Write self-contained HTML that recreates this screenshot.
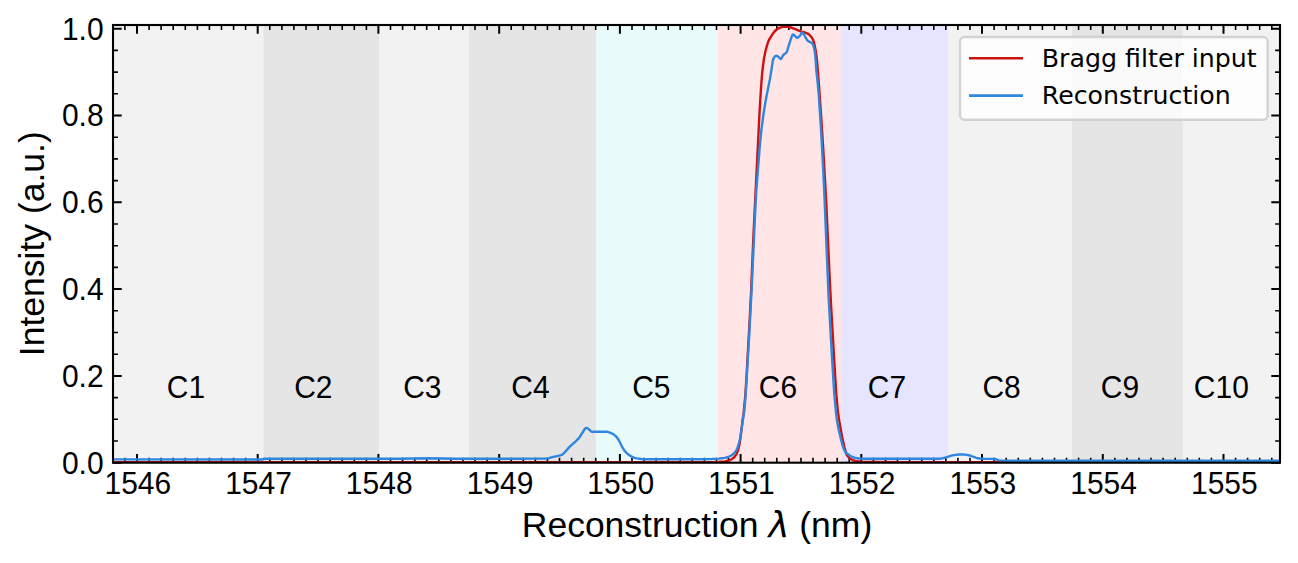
<!DOCTYPE html>
<html><head><meta charset="utf-8"><title>Reconstruction</title>
<style>
html,body{margin:0;padding:0;background:#fff;}
svg{display:block}
text{font-family:"Liberation Sans",sans-serif;fill:#000}
.tk{font-size:30px}
.lb{font-size:35.5px}
.lg{font-family:"DejaVu Sans",sans-serif;font-size:25.25px}
</style></head><body>
<svg width="1298" height="563" viewBox="0 0 1298 563">
<rect width="1298" height="563" fill="#fff"/>
<defs><clipPath id="ax"><rect x="113.0" y="25.0" width="1167.0" height="437.7"/></clipPath></defs>
<g clip-path="url(#ax)">
<rect x="105.0" y="25.0" width="1183.0" height="437.7" fill="#f2f2f2"/>
<rect x="263.6" y="25.0" width="1024.4" height="437.7" fill="#e5e5e5"/>
<rect x="379.0" y="25.0" width="909.0" height="437.7" fill="#f2f2f2"/>
<rect x="469.0" y="25.0" width="819.0" height="437.7" fill="#e5e5e5"/>
<rect x="595.9" y="25.0" width="692.1" height="437.7" fill="#e8fafa"/>
<rect x="718.0" y="25.0" width="570.0" height="437.7" fill="#ffe5e5"/>
<rect x="841.5" y="25.0" width="446.5" height="437.7" fill="#e5e5ff"/>
<rect x="947.9" y="25.0" width="340.1" height="437.7" fill="#f2f2f2"/>
<rect x="1072.0" y="25.0" width="216.0" height="437.7" fill="#e5e5e5"/>
<rect x="1182.6" y="25.0" width="105.4" height="437.7" fill="#f2f2f2"/>
</g>
<path d="M137.0,462.7v-8.7M137.0,25.0v8.7M257.7,462.7v-8.7M257.7,25.0v8.7M378.4,462.7v-8.7M378.4,25.0v8.7M499.2,462.7v-8.7M499.2,25.0v8.7M619.9,462.7v-8.7M619.9,25.0v8.7M740.6,462.7v-8.7M740.6,25.0v8.7M861.3,462.7v-8.7M861.3,25.0v8.7M982.0,462.7v-8.7M982.0,25.0v8.7M1102.8,462.7v-8.7M1102.8,25.0v8.7M1223.5,462.7v-8.7M1223.5,25.0v8.7M113.0,462.7h8.7M1280.0,462.7h-8.7M113.0,375.9h8.7M1280.0,375.9h-8.7M113.0,289.1h8.7M1280.0,289.1h-8.7M113.0,202.3h8.7M1280.0,202.3h-8.7M113.0,115.5h8.7M1280.0,115.5h-8.7M113.0,28.7h8.7M1280.0,28.7h-8.7" stroke="#000" stroke-width="2" fill="none"/>
<path d="M124.9,462.7v-4.9M124.9,25.0v4.9M149.1,462.7v-4.9M149.1,25.0v4.9M161.1,462.7v-4.9M161.1,25.0v4.9M173.2,462.7v-4.9M173.2,25.0v4.9M185.3,462.7v-4.9M185.3,25.0v4.9M197.4,462.7v-4.9M197.4,25.0v4.9M209.4,462.7v-4.9M209.4,25.0v4.9M221.5,462.7v-4.9M221.5,25.0v4.9M233.6,462.7v-4.9M233.6,25.0v4.9M245.6,462.7v-4.9M245.6,25.0v4.9M269.8,462.7v-4.9M269.8,25.0v4.9M281.9,462.7v-4.9M281.9,25.0v4.9M293.9,462.7v-4.9M293.9,25.0v4.9M306.0,462.7v-4.9M306.0,25.0v4.9M318.1,462.7v-4.9M318.1,25.0v4.9M330.2,462.7v-4.9M330.2,25.0v4.9M342.2,462.7v-4.9M342.2,25.0v4.9M354.3,462.7v-4.9M354.3,25.0v4.9M366.4,462.7v-4.9M366.4,25.0v4.9M390.5,462.7v-4.9M390.5,25.0v4.9M402.6,462.7v-4.9M402.6,25.0v4.9M414.7,462.7v-4.9M414.7,25.0v4.9M426.7,462.7v-4.9M426.7,25.0v4.9M438.8,462.7v-4.9M438.8,25.0v4.9M450.9,462.7v-4.9M450.9,25.0v4.9M462.9,462.7v-4.9M462.9,25.0v4.9M475.0,462.7v-4.9M475.0,25.0v4.9M487.1,462.7v-4.9M487.1,25.0v4.9M511.2,462.7v-4.9M511.2,25.0v4.9M523.3,462.7v-4.9M523.3,25.0v4.9M535.4,462.7v-4.9M535.4,25.0v4.9M547.4,462.7v-4.9M547.4,25.0v4.9M559.5,462.7v-4.9M559.5,25.0v4.9M571.6,462.7v-4.9M571.6,25.0v4.9M583.7,462.7v-4.9M583.7,25.0v4.9M595.7,462.7v-4.9M595.7,25.0v4.9M607.8,462.7v-4.9M607.8,25.0v4.9M632.0,462.7v-4.9M632.0,25.0v4.9M644.0,462.7v-4.9M644.0,25.0v4.9M656.1,462.7v-4.9M656.1,25.0v4.9M668.2,462.7v-4.9M668.2,25.0v4.9M680.2,462.7v-4.9M680.2,25.0v4.9M692.3,462.7v-4.9M692.3,25.0v4.9M704.4,462.7v-4.9M704.4,25.0v4.9M716.5,462.7v-4.9M716.5,25.0v4.9M728.5,462.7v-4.9M728.5,25.0v4.9M752.7,462.7v-4.9M752.7,25.0v4.9M764.7,462.7v-4.9M764.7,25.0v4.9M776.8,462.7v-4.9M776.8,25.0v4.9M788.9,462.7v-4.9M788.9,25.0v4.9M801.0,462.7v-4.9M801.0,25.0v4.9M813.0,462.7v-4.9M813.0,25.0v4.9M825.1,462.7v-4.9M825.1,25.0v4.9M837.2,462.7v-4.9M837.2,25.0v4.9M849.2,462.7v-4.9M849.2,25.0v4.9M873.4,462.7v-4.9M873.4,25.0v4.9M885.5,462.7v-4.9M885.5,25.0v4.9M897.5,462.7v-4.9M897.5,25.0v4.9M909.6,462.7v-4.9M909.6,25.0v4.9M921.7,462.7v-4.9M921.7,25.0v4.9M933.8,462.7v-4.9M933.8,25.0v4.9M945.8,462.7v-4.9M945.8,25.0v4.9M957.9,462.7v-4.9M957.9,25.0v4.9M970.0,462.7v-4.9M970.0,25.0v4.9M994.1,462.7v-4.9M994.1,25.0v4.9M1006.2,462.7v-4.9M1006.2,25.0v4.9M1018.3,462.7v-4.9M1018.3,25.0v4.9M1030.3,462.7v-4.9M1030.3,25.0v4.9M1042.4,462.7v-4.9M1042.4,25.0v4.9M1054.5,462.7v-4.9M1054.5,25.0v4.9M1066.5,462.7v-4.9M1066.5,25.0v4.9M1078.6,462.7v-4.9M1078.6,25.0v4.9M1090.7,462.7v-4.9M1090.7,25.0v4.9M1114.8,462.7v-4.9M1114.8,25.0v4.9M1126.9,462.7v-4.9M1126.9,25.0v4.9M1139.0,462.7v-4.9M1139.0,25.0v4.9M1151.0,462.7v-4.9M1151.0,25.0v4.9M1163.1,462.7v-4.9M1163.1,25.0v4.9M1175.2,462.7v-4.9M1175.2,25.0v4.9M1187.3,462.7v-4.9M1187.3,25.0v4.9M1199.3,462.7v-4.9M1199.3,25.0v4.9M1211.4,462.7v-4.9M1211.4,25.0v4.9M1235.6,462.7v-4.9M1235.6,25.0v4.9M1247.6,462.7v-4.9M1247.6,25.0v4.9M1259.7,462.7v-4.9M1259.7,25.0v4.9M1271.8,462.7v-4.9M1271.8,25.0v4.9M113.0,441.0h4.9M1280.0,441.0h-4.9M113.0,419.3h4.9M1280.0,419.3h-4.9M113.0,397.6h4.9M1280.0,397.6h-4.9M113.0,354.2h4.9M1280.0,354.2h-4.9M113.0,332.5h4.9M1280.0,332.5h-4.9M113.0,310.8h4.9M1280.0,310.8h-4.9M113.0,267.4h4.9M1280.0,267.4h-4.9M113.0,245.7h4.9M1280.0,245.7h-4.9M113.0,224.0h4.9M1280.0,224.0h-4.9M113.0,180.6h4.9M1280.0,180.6h-4.9M113.0,158.9h4.9M1280.0,158.9h-4.9M113.0,137.2h4.9M1280.0,137.2h-4.9M113.0,93.8h4.9M1280.0,93.8h-4.9M113.0,72.1h4.9M1280.0,72.1h-4.9M113.0,50.4h4.9M1280.0,50.4h-4.9" stroke="#000" stroke-width="1.6" fill="none"/>
<g clip-path="url(#ax)" fill="none" stroke-linejoin="round" stroke-linecap="butt">
<path d="M105.0,462.1 L710.3,462.1 L718.0,462.0 L724.7,461.4 L727.0,461.0 L728.9,460.5 L730.5,459.8 L732.0,459.0 L733.3,458.0 L734.6,456.8 L735.3,455.8 L736.4,454.2 L737.3,452.2 L737.9,450.8 L738.6,448.3 L739.2,445.5 L739.8,442.4 L740.4,438.7 L742.5,421.0 L743.6,413.3 L745.0,398.8 L745.7,390.0 L746.8,371.9 L749.9,315.5 L751.2,289.8 L752.5,258.1 L753.5,234.0 L759.5,112.9 L761.1,86.5 L762.0,75.2 L762.9,66.6 L764.0,58.5 L765.3,51.9 L766.4,47.6 L767.5,43.8 L768.3,41.5 L769.2,39.5 L771.8,35.3 L773.4,32.9 L774.5,31.5 L776.1,30.0 L777.1,29.2 L778.3,28.5 L780.2,27.6 L782.7,26.9 L785.1,26.6 L787.7,26.8 L789.6,27.1 L790.8,27.5 L793.9,28.6 L800.1,31.2 L802.7,31.8 L804.9,32.5 L808.1,33.9 L809.1,34.5 L810.1,35.6 L811.3,36.9 L812.4,38.5 L813.2,40.1 L813.7,41.6 L814.7,45.8 L815.3,48.6 L815.9,52.0 L816.5,56.2 L817.0,60.9 L818.5,79.2 L821.5,121.7 L823.4,151.8 L826.1,199.2 L829.7,278.1 L831.0,304.1 L834.5,364.9 L836.3,394.0 L837.6,408.4 L838.5,415.8 L839.4,421.8 L842.4,438.4 L844.6,447.7 L846.1,453.3 L846.6,454.5 L847.3,455.6 L848.4,456.9 L850.0,458.4 L851.3,459.3 L853.0,460.1 L855.0,460.8 L857.1,461.3 L861.4,461.7 L872.3,462.0 L902.0,462.2 L1290.0,462.1" stroke="#cc1111" stroke-width="2.4"/>
<path d="M105.0,459.4 L262.2,459.5 L262.8,459.4 L263.9,458.8 L264.8,458.7 L398.9,458.7 L428.0,458.2 L456.1,458.7 L518.7,458.7 L530.0,458.6 L541.3,458.6 L546.2,458.5 L548.9,458.2 L552.4,457.2 L558.1,455.9 L561.8,454.9 L562.5,454.5 L564.4,452.7 L567.5,449.1 L569.8,446.6 L575.4,441.6 L577.9,439.2 L579.7,437.0 L584.8,428.9 L585.7,428.1 L586.1,427.9 L586.5,427.9 L587.3,428.2 L588.4,428.8 L591.1,431.3 L591.6,431.7 L592.2,432.0 L593.5,431.8 L606.9,431.7 L608.3,432.1 L610.6,432.9 L613.4,434.3 L615.2,435.6 L616.3,436.7 L617.3,437.9 L618.3,439.5 L619.5,441.5 L621.4,445.5 L622.7,447.9 L624.5,450.7 L626.4,452.9 L628.5,454.6 L629.9,455.6 L632.2,456.8 L634.6,457.8 L637.0,458.4 L641.5,459.0 L644.4,459.2 L646.7,459.3 L650.9,459.2 L698.2,459.2 L712.0,459.0 L719.0,458.6 L721.7,458.3 L724.7,457.9 L726.5,457.5 L728.0,457.0 L729.2,456.5 L731.2,455.5 L732.3,454.7 L733.8,453.5 L734.9,452.3 L735.9,450.9 L736.6,449.8 L737.5,447.8 L738.8,443.7 L739.8,439.8 L740.6,435.4 L743.4,416.5 L744.1,412.3 L744.5,409.0 L745.4,398.3 L746.3,384.7 L749.4,332.1 L751.8,286.0 L755.4,207.0 L756.4,189.6 L758.3,165.0 L759.9,144.6 L760.7,136.8 L761.4,129.9 L762.9,118.5 L763.9,111.6 L765.4,102.3 L766.7,95.3 L769.9,79.3 L771.1,72.0 L772.7,61.5 L773.1,59.8 L773.9,57.8 L774.5,56.9 L775.2,56.2 L775.9,55.9 L776.6,55.8 L777.3,56.1 L778.1,56.6 L779.2,57.5 L780.2,58.7 L780.6,59.0 L780.9,59.0 L781.2,58.8 L781.5,58.4 L782.5,56.3 L783.5,54.9 L784.5,53.9 L785.9,53.0 L786.3,52.6 L786.7,52.1 L787.3,50.6 L788.3,46.8 L791.6,36.9 L792.1,35.6 L792.6,34.7 L793.1,34.5 L793.6,34.7 L794.7,35.6 L796.6,37.5 L796.9,37.7 L797.5,37.7 L799.0,36.7 L799.8,35.9 L800.4,35.1 L801.5,33.1 L801.9,32.6 L802.2,32.4 L802.5,32.4 L802.8,32.7 L806.5,39.0 L807.7,40.7 L808.2,41.1 L809.1,41.7 L811.3,42.7 L812.2,43.3 L812.7,44.0 L813.4,45.7 L814.2,48.5 L814.8,51.3 L815.0,53.1 L815.5,58.3 L816.3,70.0 L817.4,80.0 L818.6,93.0 L820.1,115.2 L821.2,132.5 L823.1,167.8 L824.4,195.0 L828.5,295.0 L829.5,313.6 L832.0,357.6 L833.6,383.4 L834.3,394.0 L835.6,408.4 L836.3,415.7 L837.2,422.1 L838.5,429.0 L841.7,442.3 L843.2,447.4 L844.2,449.8 L844.9,451.0 L845.9,452.4 L847.0,453.5 L849.0,455.0 L851.0,456.2 L852.6,457.0 L854.3,457.6 L855.8,458.1 L857.4,458.3 L859.8,458.6 L862.2,458.7 L938.0,458.7 L940.8,458.5 L943.1,458.1 L946.1,457.3 L951.4,455.7 L953.8,455.1 L958.8,454.5 L962.2,454.4 L965.4,454.6 L968.7,455.2 L971.3,456.0 L976.4,457.9 L978.0,458.3 L980.0,458.5 L983.7,458.7 L991.6,458.9 L994.5,459.0 L995.5,459.2 L998.4,460.2 L999.5,460.4 L1004.7,460.6 L1012.4,460.7 L1290.0,460.7" stroke="#2e86de" stroke-width="2.4"/>
</g>
<rect x="113.0" y="25.0" width="1167.0" height="437.7" fill="none" stroke="#000" stroke-width="2.1"/>
<text class="tk" transform="translate(186,397.6) scale(1,1.035)" text-anchor="middle">C1</text>
<text class="tk" transform="translate(313.3,397.6) scale(1,1.035)" text-anchor="middle">C2</text>
<text class="tk" transform="translate(422.3,397.6) scale(1,1.035)" text-anchor="middle">C3</text>
<text class="tk" transform="translate(530.5,397.6) scale(1,1.035)" text-anchor="middle">C4</text>
<text class="tk" transform="translate(651.3,397.6) scale(1,1.035)" text-anchor="middle">C5</text>
<text class="tk" transform="translate(778,397.6) scale(1,1.035)" text-anchor="middle">C6</text>
<text class="tk" transform="translate(887,397.6) scale(1,1.035)" text-anchor="middle">C7</text>
<text class="tk" transform="translate(1001.6,397.6) scale(1,1.035)" text-anchor="middle">C8</text>
<text class="tk" transform="translate(1120,397.6) scale(1,1.035)" text-anchor="middle">C9</text>
<text class="tk" transform="translate(1221.3,397.6) scale(1,1.035)" text-anchor="middle">C10</text>
<text class="tk" transform="translate(137.8,493.6) scale(1,1.035)" text-anchor="middle">1546</text>
<text class="tk" transform="translate(258.5,493.6) scale(1,1.035)" text-anchor="middle">1547</text>
<text class="tk" transform="translate(379.2,493.6) scale(1,1.035)" text-anchor="middle">1548</text>
<text class="tk" transform="translate(500.0,493.6) scale(1,1.035)" text-anchor="middle">1549</text>
<text class="tk" transform="translate(620.7,493.6) scale(1,1.035)" text-anchor="middle">1550</text>
<text class="tk" transform="translate(741.4,493.6) scale(1,1.035)" text-anchor="middle">1551</text>
<text class="tk" transform="translate(862.1,493.6) scale(1,1.035)" text-anchor="middle">1552</text>
<text class="tk" transform="translate(982.8,493.6) scale(1,1.035)" text-anchor="middle">1553</text>
<text class="tk" transform="translate(1103.6,493.6) scale(1,1.035)" text-anchor="middle">1554</text>
<text class="tk" transform="translate(1224.3,493.6) scale(1,1.035)" text-anchor="middle">1555</text>
<text class="tk" transform="translate(103.6,473.5) scale(1,1.035)" text-anchor="end">0.0</text>
<text class="tk" transform="translate(103.6,386.7) scale(1,1.035)" text-anchor="end">0.2</text>
<text class="tk" transform="translate(103.6,299.9) scale(1,1.035)" text-anchor="end">0.4</text>
<text class="tk" transform="translate(103.6,213.1) scale(1,1.035)" text-anchor="end">0.6</text>
<text class="tk" transform="translate(103.6,126.3) scale(1,1.035)" text-anchor="end">0.8</text>
<text class="tk" transform="translate(103.6,39.5) scale(1,1.035)" text-anchor="end">1.0</text>
<text class="lb" x="697" y="536.7" text-anchor="middle">Reconstruction <tspan font-family="DejaVu Sans, sans-serif" font-style="italic">λ</tspan> (nm)</text>
<text class="lb" transform="translate(43.8,243.7) rotate(-90)" text-anchor="middle">Intensity (a.u.)</text>
<rect x="960" y="37" width="307.6" height="82.8" rx="4.5" ry="4.5" fill="#fff" fill-opacity="0.8" stroke="#ccc" stroke-opacity="0.85" stroke-width="2.4"/>
<path d="M969,58.3H1023" stroke="#cc1111" stroke-width="2.6"/>
<path d="M969,95.6H1023" stroke="#2e86de" stroke-width="2.6"/>
<text class="lg" x="1041.8" y="66.9">Bragg filter input</text>
<text class="lg" x="1041.8" y="104.1">Reconstruction</text>
</svg></body></html>
